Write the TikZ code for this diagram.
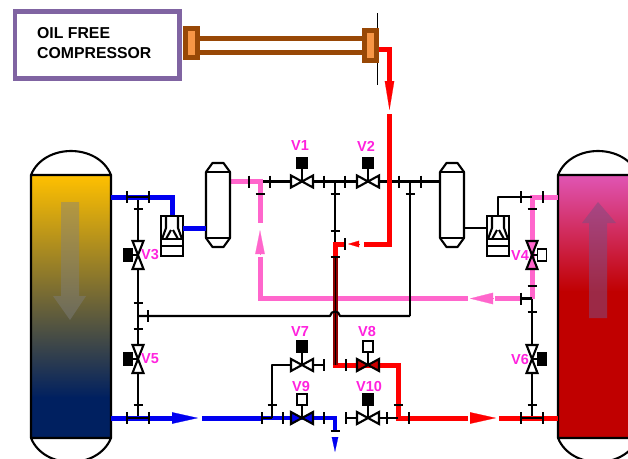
\documentclass[tikz,border=0pt]{standalone}
\usepackage{xcolor}
\usepackage{fontspec}
\setmainfont{Liberation Sans}
\usetikzlibrary{calc,arrows.meta,positioning}
\definecolor{purplex}{HTML}{8064A2}
\definecolor{brownx}{HTML}{984806}
\definecolor{orangex}{HTML}{F79646}
\definecolor{bluex}{HTML}{0000F0}
\definecolor{pinkx}{HTML}{FF66CC}
\definecolor{redx}{HTML}{FF0000}
\definecolor{magx}{HTML}{FF22DD}
\definecolor{goldx}{HTML}{FFC000}
\definecolor{navyx}{HTML}{002060}
\definecolor{rosex}{HTML}{E055B4}
\definecolor{deepx}{HTML}{C00000}
\tikzset{
  blk/.style={draw=black,line width=2.1},
  thin pipe/.style={line width=2.1,black,line join=round},
  bluep/.style={line width=5,bluex,line join=miter},
  pinkp/.style={line width=5,pinkx,line join=miter},
  redp/.style={line width=5,redx,line join=miter},
  tag/.style={font=\bfseries\fontsize{14.5}{15}\selectfont,text=magx,inner sep=0pt},
  fl/.style={-{Triangle[length=#1,width=11.5]},line width=0.2},
  flnarrow/.style={-{Triangle[length=#1,width=9.5]},line width=0.2},
  flsmall/.style={-{Triangle[length=#1,width=6.5]},line width=0.2},
  rodp/.style={line width=5,brownx},
  flbox/.style={draw=brownx,line width=5,fill=orangex,minimum width=12,minimum height=29.5,inner sep=0pt},
  pics/hvalve/.style 2 args={code={
    \draw[blk] (0,0)--(0,-18);
    \fill[#2,draw=black,line width=1.5] (-5,-24)rectangle(5,-13);
    \filldraw[blk,fill=#1,line join=miter] (-11,-6)--(11,6)--(11,-6)--(-11,6)--cycle;
  }},
  pics/vvalve/.style n args={3}{code={
    \draw[blk] (0,0)--(#3*7,0);
    \fill[#2,draw=black,line width=1.5] (#3*5.5,-6)rectangle(#3*14.5,6);
    \filldraw[blk,fill=#1,line join=miter] (-5.5,-14)--(5.5,14)--(-5.5,14)--(5.5,-14)--cycle;
  }},
  pics/drum/.style={code={
    \filldraw[blk,fill=white,line join=round] (-12,-33)--(-12,33)--(-5.5,42)--(5.5,42)--(12,33)--(12,-33)--(5.5,-42)--(-5.5,-42)--cycle;
    \draw[black,line width=2.6] (-12,-33)--(12,-33) (-12,33)--(12,33);
  }},
  pics/pump/.style={code={
    \filldraw[blk,fill=white] (-11,-20)rectangle(11,20);
    \draw[blk,line join=round] (-6,-20)--(-6,-8)--(-10,3) (6,-20)--(6,-8)--(10,3) (-6,3)--(-1,-6) (6,3)--(1,-6);
    \draw[blk] (-11,3)--(11,3) (-11,10)--(11,10);
  }}
}
\begin{document}
\begin{tikzpicture}[x=1pt,y=-1pt]
\clip (0,0) rectangle (628,458);
% receivers
\shade[top color=goldx,bottom color=navyx] (31,175) rectangle (111,398);
\fill[navyx] (31,397) rectangle (111,438);
\shade[top color=rosex,bottom color=deepx] (558,175) rectangle (640,292);
\fill[deepx] (558,291) rectangle (640,438);
\draw[blk] (31,438)--(31,175) .. controls (44,143) and (98,143) .. (111,175)--(111,438) .. controls (98,470) and (44,470) .. (31,438) (31,175)--(111,175) (31,438)--(111,438);
\draw[blk] (558,438)--(558,175) .. controls (571,143) and (625,143) .. (638,175) (558,175)--(640,175) (558,438)--(640,438) (558,438) .. controls (571,470) and (625,470) .. (638,438);
\fill[gray,opacity=.45] (61,202)--(79,202)--(79,296)--(86,296)--(70,320)--(53,296)--(61,296)--cycle;
\fill[gray!60!violet,opacity=.55] (589,318)--(607,318)--(607,223)--(616,223)--(598,202)--(582,223)--(589,223)--cycle;
% compressor
\node[draw=purplex,line width=4.5,minimum width=164.5,minimum height=67,inner sep=0pt] (comp) at (97.2,45) {};
\node[anchor=west,align=left,inner sep=0pt,font=\bfseries\fontsize{15.8}{20}\selectfont] (comptxt) at (37,43) {OIL FREE\\COMPRESSOR};
\coordinate (rodA) at (200,38.3); \coordinate (rodB) at (362,38.3);
\coordinate (rodC) at (200,52); \coordinate (rodD) at (362,52);
\draw[rodp] (rodA)--(rodB); \draw[rodp] (rodC)--(rodD);
\coordinate (markA) at (377.5,13); \coordinate (markB) at (377.5,85);
\draw[black,line width=.7] (markA)--(markB);
\node[flbox] (flL) at (191.8,43.2) {};
\node[flbox] (flR) at (370.8,45.3) {};
% junctions
\coordinate (tl) at (111,197); \coordinate (tj) at (138,197); \coordinate (tc) at (172,197); \coordinate (pl) at (172,217);
\coordinate (bl) at (111,418); \coordinate (bj) at (138,418); \coordinate (ba) at (172,418); \coordinate (bb) at (198,418); \coordinate (bc) at (202,418);
\coordinate (lj) at (138,316); \coordinate (lk) at (410,316);
\coordinate (h1) at (231,181.5); \coordinate (h2) at (260,181.5); \coordinate (h3) at (335,181.5); \coordinate (h4) at (410,181.5); \coordinate (h5) at (440,181.5);
\coordinate (m7) at (272,365); \coordinate (m8) at (335,365); \coordinate (m9) at (398,365);
\coordinate (b9) at (272,418); \coordinate (b0) at (335,418); \coordinate (bt) at (398,418); \coordinate (ra) at (468,418);
\coordinate (tr) at (558,197); \coordinate (tk) at (532,197); \coordinate (tp) at (498,197); \coordinate (pr) at (498,217);
\coordinate (br) at (558,418); \coordinate (bk) at (532,418); \coordinate (rb) at (499,418);
\coordinate (ml) at (260,298.5); \coordinate (mr) at (468,298.5); \coordinate (ms) at (495,298.5); \coordinate (mk) at (532,298.5); \coordinate (mf) at (521,298.5);
% pipes
\draw[thin pipe] (h2)--(h5);
\draw[thin pipe] (tj)--(bj);
\draw[thin pipe] (tk)--(bk);
\draw[thin pipe] (h3)--(335,244);
\draw[pinkp] (h1)--(h2)--(260,223);
\draw[pinkp] (260,257)--(ml)--(mr);
\draw[pinkp] (ms)--(mf);
\draw[pinkp] (tr)--(tk)--(mk);
\draw[thin pipe] (pr)--(tp)--(tk);
\draw[thin pipe] (mf)--(mk);
\draw[flnarrow=24,pinkx] (260,255)--(260,230);
\draw[fl=23,pinkx] (493,298.5)--(470,298.5);
\draw[bluep] (tl)--(tc)--(pl);
\draw[bluep] (bl)--(ba);
\draw[fl=26,bluex] (172,418)--(198,418);
\draw[bluep] (bc)--(262,418);
\draw[bluex,line width=3.5] (262,418)--(b0)--(335,432);
\draw[flsmall=15,bluex] (335,437)--(335,452);
\draw[redp] (379,49)--(389.5,49)--(389.5,81);
\draw[flnarrow=29,redx] (389.5,81)--(389.5,110);
\draw[redp,line cap=butt] (389.5,114)--(389.5,244)--(364,244);
\draw[flsmall=11,redx] (359,244)--(348,244);
\draw[redp] (345,244)--(335,244)--(m8)--(m9)--(bt)--(ra);
\draw[fl=26,redx] (470,418)--(496,418);
\draw[redp] (rb)--(br);
\draw[red!55!black,line width=5] (335,258)--(m8);
\draw[black,line width=.8] (335,258)--(m8);
\draw[thin pipe] (b9)--(m7)--(324,365);
\draw[thin pipe] (346,418)--(bt);
\draw[thin pipe] (lk)--(h4);
\draw[thin pipe] (lj)--(330,316) .. controls (331,310) and (339,310) .. (340,316)--(lk);
\draw[thin pipe] (b9)--(262,418);
\draw[thin pipe] (127,197)--(149,197);
\draw[thin pipe] (127,418)--(149,418);
\draw[thin pipe] (521,418)--(543,418);
% flanges
\foreach \x/\y in {127/197,149/197,127/418,149/418,249/181.5,270/181.5,324/181.5,345/181.5,399/181.5,421/181.5,
  345/244,148/316,521/197,543/197,521/298.5,521/418,543/418,262/418,283/418,324/418,346/418,387/418,409/418,324/365,346/365}
  \draw[blk,line width=1.8] (\x,\y-6)--(\x,\y+6);
\foreach \x/\y in {138/209,138/303,138/329,138/405,260/194,335/194,335/231,335/257,410/194,532/209,532/286,532/312,532/405,272/405,398/405,335/431}
  \draw[blk,line width=1.8] (\x-4.5,\y)--(\x+4.5,\y);
% valves
\path (302,181.5) pic {hvalve={white}{black}} (368,181.5) pic {hvalve={white}{black}};
\path (302,365) pic {hvalve={white}{black}} (368,365) pic {hvalve={redx!80!black}{white}};
\path (302,418) pic {hvalve={bluex}{white}} (368,418) pic {hvalve={white}{black}};
\path (138,255) pic {vvalve={white}{black}{-1}} (138,359) pic {vvalve={white}{black}{-1}};
\path (532,255) pic {vvalve={pinkx}{white}{1}} (532,359) pic {vvalve={white}{black}{1}};
\path (218,205) pic {drum} (452,205) pic {drum};
\path (172,236) pic {pump} (498,236) pic {pump};
\coordinate (dl) at (206,228); \coordinate (pul) at (183,228);
\draw[bluep] (pul)--(dl);
\coordinate (dr) at (464,228); \coordinate (pur) at (487,228);
\draw[thin pipe] (dr)--(pur);
% labels
\node[tag] (v1) at (300,146) {V1};
\node[tag] (v2) at (366,146) {V2};
\node[tag] (v3) at (150,255) {V3};
\node[tag] (v4) at (520,256) {V4};
\node[tag] (v5) at (150,359) {V5};
\node[tag] (v6) at (520,360) {V6};
\node[tag] (v7) at (300,332) {V7};
\node[tag] (v8) at (367,332) {V8};
\node[tag] (v9) at (301,386) {V9};
\node[tag] (v10) at (369,386) {V10};
\end{tikzpicture}
\end{document}
